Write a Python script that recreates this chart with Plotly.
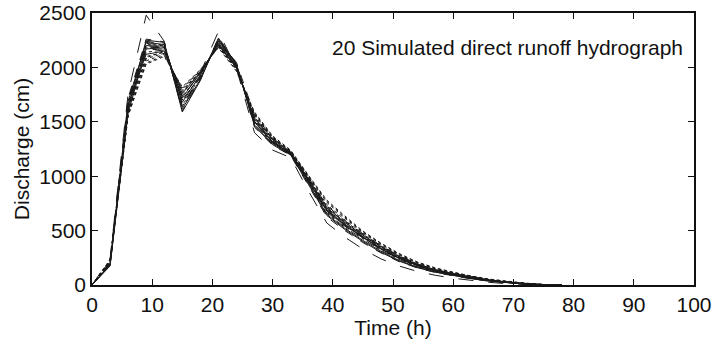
import plotly.graph_objects as go

# Time (h)
time_h = [0, 3, 6, 9, 12, 15, 18, 21, 24, 27, 30, 33, 36, 39, 42, 45, 48, 51, 54, 57, 60, 63, 66, 69, 72, 75, 78]

# 20 simulated direct runoff hydrographs, discharge (cm)
s01 = [0, 240, 1760, 2480, 2240, 1610, 1950, 2330, 1990, 1400, 1240, 1170, 860, 570, 440, 330, 240, 175, 125, 90, 62, 40, 24, 12, 5, 1, 0]
s02 = [0, 185, 1640, 2250, 2230, 1590, 1880, 2270, 2030, 1470, 1300, 1200, 930, 650, 520, 410, 310, 225, 165, 120, 90, 60, 38, 20, 9, 2, 0]
s03 = [0, 205, 1600, 2210, 2200, 1700, 1920, 2230, 2010, 1520, 1330, 1215, 960, 700, 565, 450, 345, 255, 185, 135, 100, 68, 44, 25, 11, 3, 0]
s04 = [0, 225, 1700, 2240, 2215, 1660, 1910, 2250, 2045, 1560, 1350, 1225, 985, 730, 590, 470, 360, 270, 195, 142, 106, 73, 47, 27, 12, 4, 0]
s05 = [0, 175, 1580, 2170, 2180, 1720, 1950, 2220, 2000, 1500, 1310, 1205, 950, 680, 545, 435, 330, 245, 180, 130, 96, 65, 41, 22, 10, 2, 0]
s06 = [0, 215, 1620, 2100, 2140, 1780, 1960, 2200, 1990, 1540, 1345, 1220, 975, 720, 580, 460, 355, 262, 190, 138, 102, 70, 45, 26, 11, 3, 0]
s07 = [0, 195, 1660, 2190, 2190, 1640, 1900, 2240, 2020, 1490, 1320, 1210, 945, 670, 540, 430, 325, 240, 175, 128, 94, 63, 40, 22, 9, 2, 0]
s08 = [0, 230, 1550, 2060, 2120, 1800, 1970, 2190, 1980, 1570, 1360, 1230, 995, 760, 615, 485, 375, 280, 205, 150, 112, 78, 50, 30, 14, 4, 0]
s09 = [0, 190, 1690, 2230, 2210, 1620, 1890, 2260, 2025, 1460, 1290, 1195, 920, 640, 510, 400, 300, 220, 160, 118, 88, 58, 36, 19, 8, 1, 0]
s10 = [0, 200, 1630, 2140, 2160, 1740, 1940, 2210, 2005, 1515, 1325, 1212, 958, 695, 560, 445, 340, 250, 183, 133, 98, 66, 42, 24, 10, 2, 0]
s11 = [0, 220, 1570, 2040, 2110, 1810, 1975, 2185, 1970, 1580, 1365, 1235, 1000, 770, 625, 490, 380, 285, 210, 155, 116, 80, 52, 31, 15, 5, 0]
s12 = [0, 210, 1720, 2260, 2235, 1600, 1885, 2275, 2035, 1450, 1285, 1190, 910, 625, 500, 390, 295, 215, 158, 115, 85, 56, 35, 18, 7, 1, 0]
s13 = [0, 235, 1590, 2080, 2130, 1790, 1965, 2195, 1985, 1555, 1355, 1225, 985, 740, 600, 475, 365, 272, 198, 145, 108, 75, 48, 28, 13, 4, 0]
s14 = [0, 180, 1610, 2200, 2195, 1680, 1930, 2245, 2015, 1505, 1315, 1208, 955, 690, 555, 440, 335, 248, 182, 132, 97, 66, 42, 23, 10, 2, 0]
s15 = [0, 205, 1680, 2220, 2205, 1650, 1915, 2255, 2030, 1480, 1305, 1200, 940, 660, 530, 420, 318, 235, 170, 125, 92, 62, 39, 21, 9, 2, 0]
s16 = [0, 225, 1560, 2030, 2100, 1820, 1980, 2180, 1965, 1590, 1370, 1240, 1005, 780, 635, 495, 385, 290, 212, 158, 118, 82, 54, 32, 16, 5, 0]
s17 = [0, 195, 1640, 2160, 2170, 1730, 1945, 2215, 2008, 1525, 1335, 1215, 965, 705, 570, 455, 350, 258, 188, 137, 101, 69, 44, 25, 11, 3, 0]
s18 = [0, 185, 1660, 2120, 2150, 1760, 1955, 2205, 1995, 1535, 1340, 1218, 970, 712, 575, 458, 352, 260, 190, 138, 102, 70, 45, 26, 11, 3, 0]
s19 = [0, 215, 1605, 2090, 2145, 1770, 1960, 2200, 1992, 1545, 1348, 1222, 978, 725, 588, 468, 358, 266, 194, 141, 104, 72, 46, 27, 12, 3, 0]
s20 = [0, 200, 1675, 2180, 2185, 1700, 1925, 2235, 2012, 1495, 1318, 1206, 948, 685, 550, 438, 332, 246, 180, 131, 96, 65, 41, 23, 10, 2, 0]

series = [s01, s02, s03, s04, s05, s06, s07, s08, s09, s10,
          s11, s12, s13, s14, s15, s16, s17, s18, s19, s20]
dashes = ["longdash", "solid", "dot", "dash", "solid", "dot", "dash", "dot", "solid", "dashdot",
          "dot", "dash", "dot", "solid", "dashdot", "dot", "dash", "solid", "dot", "dashdot"]

x_ticks = [0, 10, 20, 30, 40, 50, 60, 70, 80, 90, 100]
y_ticks = [0, 500, 1000, 1500, 2000, 2500]

FONT = "Liberation Sans, Arial, Helvetica, sans-serif"
FS = 21

fig = go.Figure()
for i, (s, d) in enumerate(zip(series, dashes)):
    fig.add_trace(go.Scatter(
        x=time_h, y=s, mode="lines", name=f"Sim {i+1}",
        line=dict(color="#1a1a1a", width=1, dash=d),
        showlegend=False,
    ))

fig.add_annotation(
    x=39.5, y=2180, xref="x", yref="y",
    text="20 Simulated direct runoff hydrograph",
    showarrow=False, xanchor="left", yanchor="middle",
    font=dict(family=FONT, size=FS, color="#111"),
)

axis_common = dict(
    showgrid=False, zeroline=False, showline=True, linecolor="#111", linewidth=1.5,
    mirror="ticks", ticks="inside", ticklen=6, tickwidth=1, tickcolor="#111",
    tickfont=dict(family=FONT, size=FS, color="#111"), automargin=False,
)

fig.update_xaxes(
    range=[0, 100], tickvals=x_ticks, ticktext=[str(v) for v in x_ticks],
    title=dict(text="Time (h)", font=dict(family=FONT, size=FS, color="#111"), standoff=2),
    **axis_common,
)
fig.update_yaxes(
    range=[0, 2500], tickvals=y_ticks, ticktext=[str(v) for v in y_ticks],
    title=dict(text="Discharge (cm)", font=dict(family=FONT, size=FS, color="#111"), standoff=4),
    **axis_common,
)

fig.update_layout(
    width=719, height=344,
    margin=dict(l=92, r=25, t=13, b=59),
    paper_bgcolor="white", plot_bgcolor="white",
    font=dict(family=FONT, size=FS, color="#111"),
)

fig.write_html("out.html")
